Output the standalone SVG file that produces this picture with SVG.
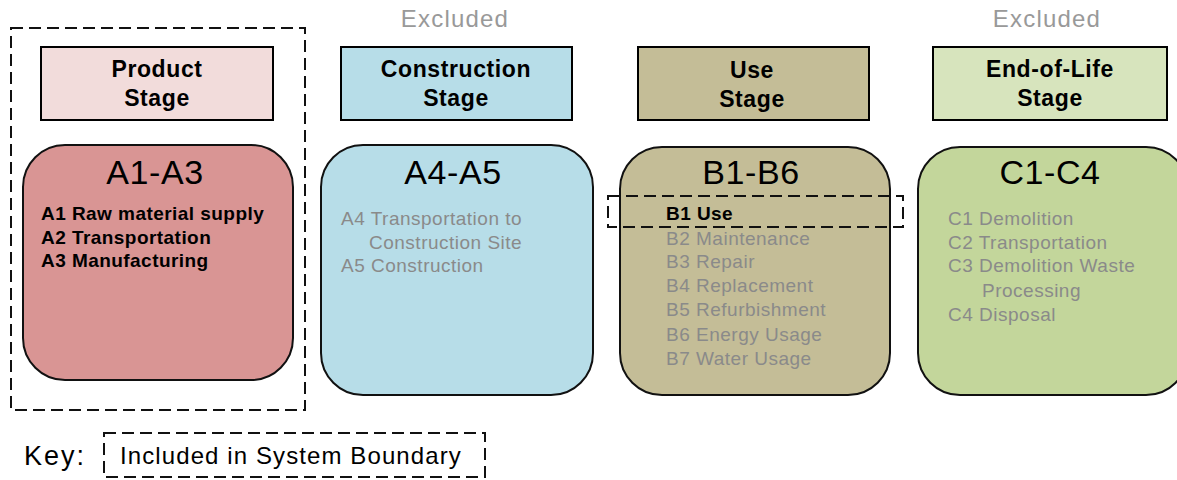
<svg xmlns="http://www.w3.org/2000/svg" width="1177" height="480" viewBox="0 0 1177 480">
<style>
text{font-family:"Liberation Sans",Arial,sans-serif}
.hdr{stroke:#000;stroke-width:2}
.hdrt{font-size:23px;font-weight:bold;fill:#000;text-anchor:middle;letter-spacing:0.6px}
.mod{stroke:#111;stroke-width:2}
.ttl{font-size:34px;fill:#000;text-anchor:middle;letter-spacing:0.6px}
.inc{font-size:19px;font-weight:bold;fill:#000;letter-spacing:0.45px}
.exc{font-size:19px;fill:#8a8a8a;letter-spacing:0.5px}
.exl{font-size:24px;fill:#999;text-anchor:middle;letter-spacing:1.2px}
.dash{fill:none;stroke:#111;stroke-width:2;stroke-dasharray:12 6}
</style>
<rect x="0" y="0" width="1177" height="480" fill="#fff"/>
<g id="boundary">
<rect class="dash" x="11" y="28" width="294" height="382"/>
</g>
<g id="product">
<rect class="hdr" x="41" y="47" width="232" height="73" fill="#f2dcdb"/>
<text class="hdrt" x="157" y="77">Product</text>
<text class="hdrt" x="157" y="106">Stage</text>
<rect class="mod" x="23" y="145" width="270" height="235" rx="42" fill="#d99594"/>
<text class="ttl" x="155" y="184">A1-A3</text>
<text class="inc" x="41" y="220">A1 Raw material supply</text>
<text class="inc" x="41" y="244">A2 Transportation</text>
<text class="inc" x="41" y="267">A3 Manufacturing</text>
</g>
<g id="construction">
<text class="exl" x="455" y="27">Excluded</text>
<rect class="hdr" x="341" y="47" width="231" height="73" fill="#b7dde8"/>
<text class="hdrt" x="456" y="77">Construction</text>
<text class="hdrt" x="456" y="106">Stage</text>
<rect class="mod" x="321" y="145" width="272" height="250" rx="42" fill="#b7dde8"/>
<text class="ttl" x="453" y="184">A4-A5</text>
<text class="exc" x="341" y="225">A4 Transportation to</text>
<text class="exc" x="369" y="249">Construction Site</text>
<text class="exc" x="341" y="272">A5 Construction</text>
</g>
<g id="use">
<rect class="hdr" x="638" y="47" width="231" height="73" fill="#c4bd97"/>
<text class="hdrt" x="752" y="78">Use</text>
<text class="hdrt" x="752" y="107">Stage</text>
<rect class="mod" x="620" y="147" width="270" height="248" rx="42" fill="#c4bd97"/>
<text class="ttl" x="751" y="184">B1-B6</text>
<text class="inc" x="666" y="220">B1 Use</text>
<text class="exc" x="666" y="245">B2 Maintenance</text>
<text class="exc" x="666" y="268">B3 Repair</text>
<text class="exc" x="666" y="292">B4 Replacement</text>
<text class="exc" x="666" y="316">B5 Refurbishment</text>
<text class="exc" x="666" y="341">B6 Energy Usage</text>
<text class="exc" x="666" y="365">B7 Water Usage</text>
<rect class="dash" x="608" y="196" width="295" height="31"/>
</g>
<g id="endoflife">
<text class="exl" x="1047" y="27">Excluded</text>
<rect class="hdr" x="933" y="47" width="234" height="73" fill="#d7e4bd"/>
<text class="hdrt" x="1050" y="77">End-of-Life</text>
<text class="hdrt" x="1050" y="106">Stage</text>
<rect class="mod" x="918" y="147" width="270" height="248" rx="42" fill="#c3d69b"/>
<text class="ttl" x="1050" y="184">C1-C4</text>
<text class="exc" x="948" y="225">C1 Demolition</text>
<text class="exc" x="948" y="249">C2 Transportation</text>
<text class="exc" x="948" y="272">C3 Demolition Waste</text>
<text class="exc" x="982" y="297">Processing</text>
<text class="exc" x="948" y="321">C4 Disposal</text>
</g>
<g id="key">
<text x="24" y="465" font-size="27" fill="#000" letter-spacing="2">Key:</text>
<rect class="dash" x="104" y="433" width="381" height="44"/>
<text x="120" y="464" font-size="24" fill="#000" letter-spacing="1.1">Included in System Boundary</text>
</g>
<g id="connectors"></g>
</svg>
